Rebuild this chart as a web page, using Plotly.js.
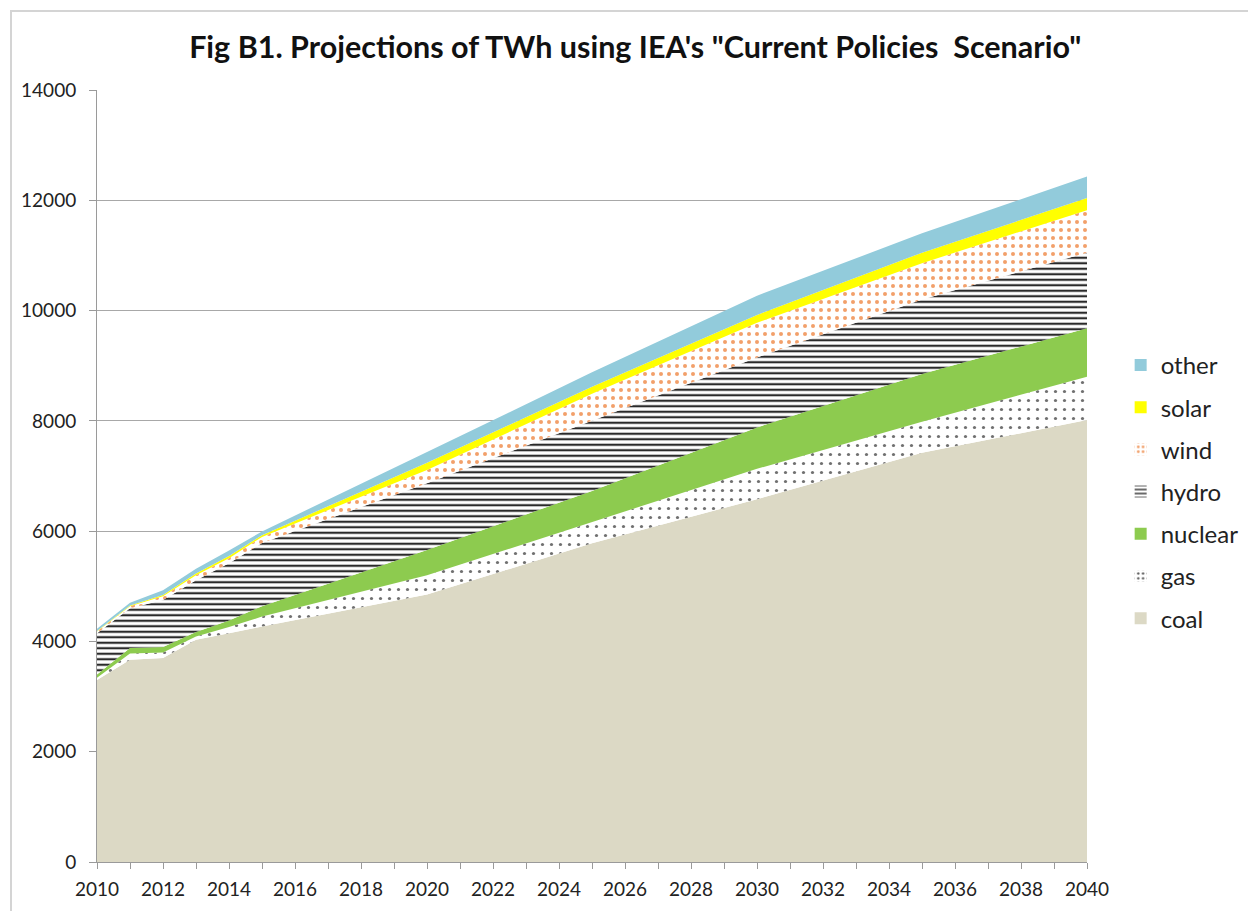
<!DOCTYPE html>
<html>
<head>
<meta charset="utf-8">
<script src="https://cdn.plot.ly/plotly-3.0.1.min.js"></script>
<style>
  html, body { margin: 0; padding: 0; background: #fff; overflow: hidden; }
  #chart { width: 1248px; height: 911px; position: absolute; left: 0; top: 0; }
  #frame { position: absolute; left: 10px; top: 10px; width: 1400px; height: 1100px;
           border: 2px solid #d4d4d4; pointer-events: none; }
</style>
</head>
<body>
<div id="chart"></div>
<div id="frame"></div>
<script>
// Years
const years = [2010, 2011, 2012, 2013, 2014, 2015, 2020, 2025, 2030, 2035, 2040];

// TWh per source (stacked)
const coal    = [3300, 3670, 3700, 4030, 4150, 4270, 4850, 5780, 6580, 7420, 8015];
const gas     = [40, 110, 100, 60, 110, 180, 350, 390, 550, 565, 785];
const nuclear = [60, 100, 100, 80, 120, 190, 460, 560, 750, 865, 880];
const hydro   = [750, 720, 850, 940, 1040, 1145, 1210, 1270, 1270, 1350, 1370];
const wind    = [30, 40, 70, 90, 90, 110, 240, 490, 630, 660, 770];
const solar   = [10, 10, 20, 30, 40, 30, 130, 130, 140, 190, 220];
const other   = [40, 50, 90, 90, 100, 70, 195, 260, 350, 350, 390];

const seriesNames = ["coal", "gas", "nuclear", "hydro", "wind", "solar", "other"];
const yTickVals = [0, 2000, 4000, 6000, 8000, 10000, 12000, 14000];
const xTickVals = [2010, 2012, 2014, 2016, 2018, 2020, 2022, 2024, 2026, 2028, 2030, 2032, 2034, 2036, 2038, 2040];

const FONT = "Lato, 'Liberation Sans', sans-serif";

const styles = {
  coal:    { color: "#dcd9c5" },
  gas:     { pattern: { shape: ".", fgcolor: "#707070", bgcolor: "#ffffff", size: 9, solidity: 0.1, fillmode: "replace" } },
  nuclear: { color: "#8dcb4f" },
  hydro:   { pattern: { shape: "-", fgcolor: "#2a2a2a", bgcolor: "#ffffff", size: 5.5, solidity: 0.4, fillmode: "replace" } },
  wind:    { pattern: { shape: ".", fgcolor: "#f2a06a", bgcolor: "#ffffff", size: 8, solidity: 0.2, fillmode: "replace" } },
  solar:   { color: "#ffff00" },
  other:   { color: "#92cbdb" }
};
const legendPatterns = {
  gas:   { shape: ".", fgcolor: "#555555", bgcolor: "#ffffff", size: 6, solidity: 0.18 },
  hydro: { shape: "-", fgcolor: "#2a2a2a", bgcolor: "#ffffff", size: 5, solidity: 0.35 },
  wind:  { shape: ".", fgcolor: "#f2a06a", bgcolor: "#ffffff", size: 6, solidity: 0.25 }
};

const seriesValues = { coal, gas, nuclear, hydro, wind, solar, other };

const data = [];
seriesNames.forEach(function (name) {
  const st = styles[name];
  const t = {
    x: years, y: seriesValues[name], name: name, type: "scatter", mode: "lines",
    stackgroup: "one", showlegend: false,
    line: { width: 0, color: "#ffffff" },
    hoverinfo: "x+y+name"
  };
  if (st.pattern) { t.fillcolor = "#ffffff"; t.fillpattern = st.pattern; }
  else { t.fillcolor = st.color; }
  data.push(t);
});
// legend entries (square swatches like the original)
seriesNames.forEach(function (name, i) {
  const st = styles[name];
  const marker = { line: { width: 0 } };
  if (legendPatterns[name]) { marker.color = "#ffffff"; marker.pattern = legendPatterns[name]; }
  else { marker.color = st.color; }
  data.push({
    type: "bar", x: [null], y: [null], name: name, marker: marker,
    legendgroup: "lg_" + name,
    showlegend: true, legendrank: seriesNames.length - i, hoverinfo: "skip"
  });
});

const layout = {
  width: 1248, height: 911,
  paper_bgcolor: "rgba(0,0,0,0)", plot_bgcolor: "#ffffff",
  margin: { l: 97, r: 161, t: 90, b: 49, pad: 0, autoexpand: false },
  font: { family: FONT, size: 19, color: "#222" },
  title: {
    text: "Fig B1. Projections of TWh using IEA's \"Current Policies  Scenario\"",
    font: { family: FONT, size: 30.5, color: "#111", weight: "bold" },
    x: 0.509, xanchor: "center", xref: "container",
    y: 1 - 47 / 911, yanchor: "middle", yref: "container"
  },
  xaxis: {
    range: [2010, 2040], fixedrange: true,
    tickmode: "array", tickvals: xTickVals, ticktext: xTickVals.map(String),
    ticks: "outside", ticklen: 6, tickcolor: "#9a9a9a", tickwidth: 1,
    minor: { ticks: "outside", ticklen: 6, tickcolor: "#9a9a9a", dtick: 1, tick0: 2010 },
    showgrid: false, zeroline: false,
    showline: true, linecolor: "#9a9a9a", linewidth: 1,
    ticklabelstandoff: 4,
    tickfont: { family: FONT, size: 19, color: "#222" }
  },
  yaxis: {
    range: [0, 14000], fixedrange: true,
    tickmode: "array", tickvals: yTickVals, ticktext: yTickVals.map(String),
    ticks: "outside", ticklen: 7, tickcolor: "#9a9a9a",
    ticklabelstandoff: 9,
    showgrid: true, gridcolor: "#a8a8a8", gridwidth: 1,
    zeroline: false, showline: true, linecolor: "#9a9a9a", linewidth: 1,
    tickfont: { family: FONT, size: 19, color: "#222" }
  },
  legend: {
    x: 1.034, xanchor: "left", y: 0.6725, yanchor: "top",
    traceorder: "grouped", tracegroupgap: 8,
    font: { family: FONT, size: 24, color: "#222" },
    bgcolor: "rgba(0,0,0,0)", itemwidth: 30
  },
  barmode: "overlay",
  showlegend: true
};

Plotly.newPlot("chart", data, layout, { staticPlot: true, displayModeBar: false });
</script>
</body>
</html>
